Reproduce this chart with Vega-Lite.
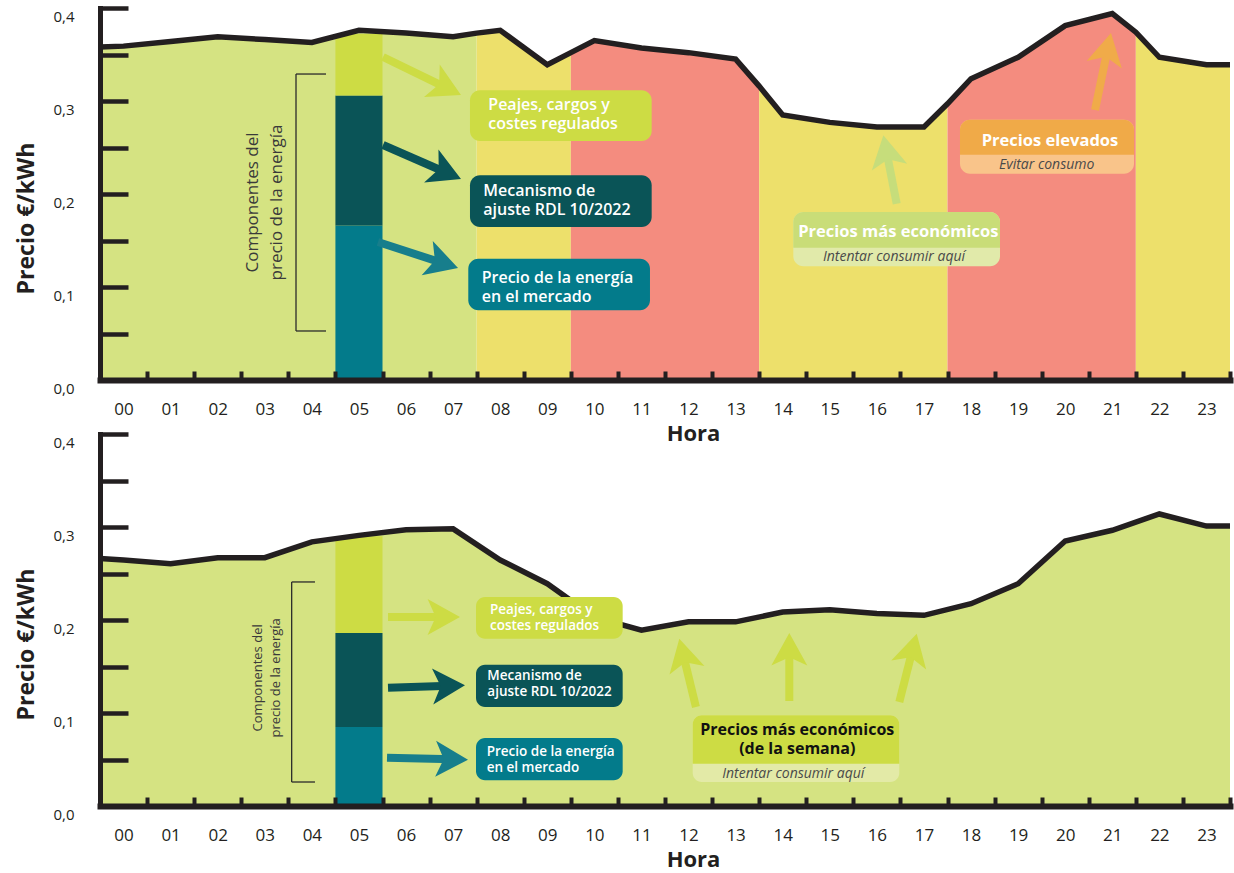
{
  "$schema": "https://vega.github.io/schema/vega-lite/v6.json",
  "autosize": {"type": "pad"},
  "padding": {"left": 15, "top": 2, "right": 0, "bottom": 6},
  "background": "white",
  "bounds": "flush",
  "spacing": 54,
  "config": {"font": "Open Sans", "view": {"stroke": null}},
  "datasets": {
    "curva": [
      {"panel": "dia", "seg": "s1", "tramo": "verde", "hora": 0, "precio": 0.358},
      {"panel": "dia", "seg": "s1", "tramo": "verde", "hora": 0.5, "precio": 0.359},
      {"panel": "dia", "seg": "s1", "tramo": "verde", "hora": 1.5, "precio": 0.364},
      {"panel": "dia", "seg": "s1", "tramo": "verde", "hora": 2.5, "precio": 0.369},
      {"panel": "dia", "seg": "s1", "tramo": "verde", "hora": 3.5, "precio": 0.366},
      {"panel": "dia", "seg": "s1", "tramo": "verde", "hora": 4.5, "precio": 0.363},
      {"panel": "dia", "seg": "s1", "tramo": "verde", "hora": 5.5, "precio": 0.376},
      {"panel": "dia", "seg": "s1", "tramo": "verde", "hora": 6.5, "precio": 0.373},
      {"panel": "dia", "seg": "s1", "tramo": "verde", "hora": 7.5, "precio": 0.369},
      {"panel": "dia", "seg": "s1", "tramo": "verde", "hora": 8, "precio": 0.373},
      {"panel": "dia", "seg": "s2", "tramo": "amarillo", "hora": 8, "precio": 0.373},
      {"panel": "dia", "seg": "s2", "tramo": "amarillo", "hora": 8.5, "precio": 0.376},
      {"panel": "dia", "seg": "s2", "tramo": "amarillo", "hora": 9.5, "precio": 0.339},
      {"panel": "dia", "seg": "s2", "tramo": "amarillo", "hora": 10, "precio": 0.352},
      {"panel": "dia", "seg": "s3", "tramo": "rojo", "hora": 10, "precio": 0.352},
      {"panel": "dia", "seg": "s3", "tramo": "rojo", "hora": 10.5, "precio": 0.365},
      {"panel": "dia", "seg": "s3", "tramo": "rojo", "hora": 11.5, "precio": 0.357},
      {"panel": "dia", "seg": "s3", "tramo": "rojo", "hora": 12.5, "precio": 0.352},
      {"panel": "dia", "seg": "s3", "tramo": "rojo", "hora": 13.5, "precio": 0.345},
      {"panel": "dia", "seg": "s3", "tramo": "rojo", "hora": 14, "precio": 0.316},
      {"panel": "dia", "seg": "s4", "tramo": "amarillo", "hora": 14, "precio": 0.316},
      {"panel": "dia", "seg": "s4", "tramo": "amarillo", "hora": 14.5, "precio": 0.285},
      {"panel": "dia", "seg": "s4", "tramo": "amarillo", "hora": 15.5, "precio": 0.277},
      {"panel": "dia", "seg": "s4", "tramo": "amarillo", "hora": 16.5, "precio": 0.272},
      {"panel": "dia", "seg": "s4", "tramo": "amarillo", "hora": 17.5, "precio": 0.272},
      {"panel": "dia", "seg": "s4", "tramo": "amarillo", "hora": 18, "precio": 0.297},
      {"panel": "dia", "seg": "s5", "tramo": "rojo", "hora": 18, "precio": 0.297},
      {"panel": "dia", "seg": "s5", "tramo": "rojo", "hora": 18.5, "precio": 0.324},
      {"panel": "dia", "seg": "s5", "tramo": "rojo", "hora": 19.5, "precio": 0.347},
      {"panel": "dia", "seg": "s5", "tramo": "rojo", "hora": 20.5, "precio": 0.381},
      {"panel": "dia", "seg": "s5", "tramo": "rojo", "hora": 21.5, "precio": 0.394},
      {"panel": "dia", "seg": "s5", "tramo": "rojo", "hora": 22, "precio": 0.374},
      {"panel": "dia", "seg": "s6", "tramo": "amarillo", "hora": 22, "precio": 0.374},
      {"panel": "dia", "seg": "s6", "tramo": "amarillo", "hora": 22.5, "precio": 0.347},
      {"panel": "dia", "seg": "s6", "tramo": "amarillo", "hora": 23.5, "precio": 0.339},
      {"panel": "dia", "seg": "s6", "tramo": "amarillo", "hora": 24, "precio": 0.339},
      {"panel": "semana", "seg": "s7", "tramo": "verde", "hora": 0, "precio": 0.266},
      {"panel": "semana", "seg": "s7", "tramo": "verde", "hora": 0.5, "precio": 0.2645},
      {"panel": "semana", "seg": "s7", "tramo": "verde", "hora": 1.5, "precio": 0.2605},
      {"panel": "semana", "seg": "s7", "tramo": "verde", "hora": 2.5, "precio": 0.267},
      {"panel": "semana", "seg": "s7", "tramo": "verde", "hora": 3.5, "precio": 0.267},
      {"panel": "semana", "seg": "s7", "tramo": "verde", "hora": 4.5, "precio": 0.284},
      {"panel": "semana", "seg": "s7", "tramo": "verde", "hora": 5.5, "precio": 0.291},
      {"panel": "semana", "seg": "s7", "tramo": "verde", "hora": 6.5, "precio": 0.297},
      {"panel": "semana", "seg": "s7", "tramo": "verde", "hora": 7.5, "precio": 0.298},
      {"panel": "semana", "seg": "s7", "tramo": "verde", "hora": 8.5, "precio": 0.2645},
      {"panel": "semana", "seg": "s7", "tramo": "verde", "hora": 9.5, "precio": 0.239},
      {"panel": "semana", "seg": "s7", "tramo": "verde", "hora": 10.5, "precio": 0.203},
      {"panel": "semana", "seg": "s7", "tramo": "verde", "hora": 11.5, "precio": 0.189},
      {"panel": "semana", "seg": "s7", "tramo": "verde", "hora": 12.5, "precio": 0.198},
      {"panel": "semana", "seg": "s7", "tramo": "verde", "hora": 13.5, "precio": 0.198},
      {"panel": "semana", "seg": "s7", "tramo": "verde", "hora": 14.5, "precio": 0.2085},
      {"panel": "semana", "seg": "s7", "tramo": "verde", "hora": 15.5, "precio": 0.211},
      {"panel": "semana", "seg": "s7", "tramo": "verde", "hora": 16.5, "precio": 0.207},
      {"panel": "semana", "seg": "s7", "tramo": "verde", "hora": 17.5, "precio": 0.205},
      {"panel": "semana", "seg": "s7", "tramo": "verde", "hora": 18.5, "precio": 0.2175},
      {"panel": "semana", "seg": "s7", "tramo": "verde", "hora": 19.5, "precio": 0.239},
      {"panel": "semana", "seg": "s7", "tramo": "verde", "hora": 20.5, "precio": 0.285},
      {"panel": "semana", "seg": "s7", "tramo": "verde", "hora": 21.5, "precio": 0.2965},
      {"panel": "semana", "seg": "s7", "tramo": "verde", "hora": 22.5, "precio": 0.314},
      {"panel": "semana", "seg": "s7", "tramo": "verde", "hora": 23.5, "precio": 0.301},
      {"panel": "semana", "seg": "s7", "tramo": "verde", "hora": 24, "precio": 0.301}
    ],
    "componentes": [
      {"panel": "dia", "comp": "energia", "hora": 5, "hora2": 6, "precio": 0, "precio2": 0.166},
      {"panel": "dia", "comp": "ajuste", "hora": 5, "hora2": 6, "precio": 0.166, "precio2": 0.306},
      {"panel": "dia", "comp": "peajes", "hora": 5, "hora2": 6, "precio": 0.306, "precio2": 0.372},
      {"panel": "semana", "comp": "energia", "hora": 5, "hora2": 6, "precio": 0, "precio2": 0.085},
      {"panel": "semana", "comp": "ajuste", "hora": 5, "hora2": 6, "precio": 0.085, "precio2": 0.186},
      {"panel": "semana", "comp": "peajes", "hora": 5, "hora2": 6, "precio": 0.186, "precio2": 0.29}
    ],
    "llave": [
      {"panel": "dia", "hora": 4.163, "hora2": 4.163, "precio": 0.0527, "precio2": 0.329},
      {"panel": "dia", "hora": 4.163, "hora2": 4.8, "precio": 0.329, "precio2": 0.329},
      {"panel": "dia", "hora": 4.163, "hora2": 4.8, "precio": 0.0527, "precio2": 0.0527},
      {"panel": "semana", "hora": 4.071, "hora2": 4.071, "precio": 0.0258, "precio2": 0.2409},
      {"panel": "semana", "hora": 4.071, "hora2": 4.566, "precio": 0.2409, "precio2": 0.2409},
      {"panel": "semana", "hora": 4.071, "hora2": 4.566, "precio": 0.0258, "precio2": 0.0258}
    ],
    "flechas": [
      {"panel": "dia", "tipo": "peajes", "hora": 6.011, "precio": 0.3473, "hora2": 7.381, "precio2": 0.3135},
      {"panel": "dia", "tipo": "ajuste", "hora": 6.011, "precio": 0.2527, "hora2": 7.374, "precio2": 0.2226},
      {"panel": "dia", "tipo": "energia", "hora": 5.904, "precio": 0.1484, "hora2": 7.3, "precio2": 0.1254},
      {"panel": "dia", "tipo": "economico", "hora": 16.921, "precio": 0.1896, "hora2": 16.698, "precio2": 0.2473},
      {"panel": "dia", "tipo": "elevado", "hora": 21.133, "precio": 0.2903, "hora2": 21.407, "precio2": 0.3573},
      {"panel": "semana", "tipo": "peajes", "hora": 6.117, "precio": 0.2032, "hora2": 7.327, "precio2": 0.2032},
      {"panel": "semana", "tipo": "ajuste", "hora": 6.117, "precio": 0.1272, "hora2": 7.434, "precio2": 0.1292},
      {"panel": "semana", "tipo": "energia", "hora": 6.096, "precio": 0.0519, "hora2": 7.498, "precio2": 0.0502},
      {"panel": "semana", "tipo": "semana", "hora": 12.657, "precio": 0.1065, "hora2": 12.374, "precio2": 0.1653},
      {"panel": "semana", "tipo": "semana", "hora": 14.64, "precio": 0.1129, "hora2": 14.64, "precio2": 0.171},
      {"panel": "semana", "tipo": "semana", "hora": 16.976, "precio": 0.1118, "hora2": 17.271, "precio2": 0.1706}
    ],
    "puntas": [
      {"punta": "dia_peajes", "hora": 7.667, "precio": 0.3065},
      {"punta": "dia_ajuste", "hora": 7.667, "precio": 0.2161},
      {"punta": "dia_energia", "hora": 7.604, "precio": 0.1204},
      {"punta": "dia_economico", "hora": 16.637, "precio": 0.2631},
      {"punta": "dia_elevado", "hora": 21.472, "precio": 0.3731},
      {"punta": "sem_peajes", "hora": 7.646, "precio": 0.2032},
      {"punta": "sem_ajuste", "hora": 7.752, "precio": 0.1298},
      {"punta": "sem_energia", "hora": 7.816, "precio": 0.0498},
      {"punta": "sem_1", "hora": 12.304, "precio": 0.1799},
      {"punta": "sem_2", "hora": 14.64, "precio": 0.186},
      {"punta": "sem_3", "hora": 17.346, "precio": 0.1853}
    ],
    "cajas": [
      {"panel": "dia", "forma": "entera", "caja": "peajes", "hora": 7.858, "hora2": 11.717, "precio": 0.3115, "precio2": 0.257},
      {"panel": "dia", "forma": "entera", "caja": "ajuste", "hora": 7.858, "hora2": 11.717, "precio": 0.2201, "precio2": 0.1645},
      {"panel": "dia", "forma": "entera", "caja": "energia", "hora": 7.822, "hora2": 11.681, "precio": 0.1304, "precio2": 0.0749},
      {"panel": "dia", "forma": "entera", "caja": "economico_sub", "hora": 14.725, "hora2": 19.115, "precio": 0.1806, "precio2": 0.1223},
      {"panel": "dia", "forma": "cabecera", "caja": "economico", "hora": 14.725, "hora2": 19.115, "precio": 0.1806, "precio2": 0.1423},
      {"panel": "dia", "forma": "entera", "caja": "elevado_sub", "hora": 18.265, "hora2": 21.961, "precio": 0.2799, "precio2": 0.2218},
      {"panel": "dia", "forma": "cabecera", "caja": "elevado", "hora": 18.265, "hora2": 21.961, "precio": 0.2799, "precio2": 0.2423},
      {"panel": "semana", "forma": "entera", "caja": "peajes", "hora": 7.986, "hora2": 11.101, "precio": 0.2247, "precio2": 0.1799},
      {"panel": "semana", "forma": "entera", "caja": "ajuste", "hora": 7.986, "hora2": 11.101, "precio": 0.1519, "precio2": 0.1065},
      {"panel": "semana", "forma": "entera", "caja": "energia", "hora": 7.986, "hora2": 11.101, "precio": 0.0731, "precio2": 0.0276},
      {"panel": "semana", "forma": "entera", "caja": "semana_sub", "hora": 12.588, "hora2": 16.976, "precio": 0.0975, "precio2": 0.0258},
      {"panel": "semana", "forma": "cabecera", "caja": "semana", "hora": 12.588, "hora2": 16.976, "precio": 0.0975, "precio2": 0.0455}
    ],
    "textos": [
      {"panel": "dia", "estilo": "caja", "texto": "Peajes, cargos y\ncostes regulados", "hora": 8.247, "precio": 0.29},
      {"panel": "dia", "estilo": "caja", "texto": "Mecanismo de\najuste RDL 10/2022", "hora": 8.141, "precio": 0.1975},
      {"panel": "dia", "estilo": "caja", "texto": "Precio de la energía\nen el mercado", "hora": 8.107, "precio": 0.1046},
      {"panel": "dia", "estilo": "titulo", "texto": "Precios más económicos", "hora": 16.955, "precio": 0.1538},
      {"panel": "dia", "estilo": "sub", "texto": "Intentar consumir aquí", "hora": 16.864, "precio": 0.128},
      {"panel": "dia", "estilo": "titulo", "texto": "Precios elevados", "hora": 20.177, "precio": 0.2513},
      {"panel": "dia", "estilo": "sub", "texto": "Evitar consumo", "hora": 20.106, "precio": 0.2272},
      {"panel": "dia", "estilo": "giro", "texto": "Componentes del\nprecio de la energía", "hora": 3.25, "precio": 0.1909},
      {"panel": "semana", "estilo": "caja_p", "texto": "Peajes, cargos y\ncostes regulados", "hora": 8.283, "precio": 0.2068},
      {"panel": "semana", "estilo": "caja_p", "texto": "Mecanismo de\najuste RDL 10/2022", "hora": 8.226, "precio": 0.1352},
      {"panel": "semana", "estilo": "caja_p", "texto": "Precio de la energía\nen el mercado", "hora": 8.212, "precio": 0.0538},
      {"panel": "semana", "estilo": "titulo_n", "texto": "Precios más económicos\n(de la semana)", "hora": 14.809, "precio": 0.076},
      {"panel": "semana", "estilo": "sub", "texto": "Intentar consumir aquí", "hora": 14.725, "precio": 0.0304},
      {"panel": "semana", "estilo": "giro_p", "texto": "Componentes del\nprecio de la energía", "hora": 3.356, "precio": 0.1378}
    ]
  },
  "vconcat": [
    {
      "width": 1130,
      "height": 372,
      "encoding": {
        "x": {
          "field": "hora", "type": "quantitative",
          "scale": {"domain": [0, 24], "nice": false, "zero": false},
          "axis": {
            "zindex": 1,
            "values": [0, 1, 2, 3, 4, 5, 6, 7, 8, 9, 10, 11, 12, 13, 14, 15, 16, 17, 18, 19, 20, 21, 22, 23, 24],
            "labelExpr": "datum.value < 10 ? '0' + datum.value : (datum.value < 24 ? '' + datum.value : '')",
            "labelOffset": 23.54, "labelPadding": 30, "labelFontSize": 17, "labelColor": "#231f20",
            "labelBaseline": "top", "labelFlush": false, "labelOverlap": false, "labelBound": false,
            "tickSize": -9, "tickWidth": 4, "tickColor": "#231f20",
            "domainWidth": 6, "domainColor": "#231f20", "domainCap": "square", "grid": false,
            "title": "Hora", "titleFontSize": 22, "titleFontWeight": "bold", "titleColor": "#231f20",
            "titleX": 593, "titleY": 60, "titleBaseline": "alphabetic", "titleAlign": "center"
          }
        },
        "y": {
          "field": "precio", "type": "quantitative", "stack": null,
          "scale": {"domain": [0, 0.4], "nice": false},
          "axis": {
            "zindex": 1,
            "values": [0, 0.05, 0.1, 0.15, 0.2, 0.25, 0.3, 0.35, 0.4],
            "labelExpr": "round(datum.value * 20) % 2 == 0 ? replace(format(datum.value, '.1f'), '.', ',') : ''",
            "labelOffset": 8, "labelPadding": 54, "labelFontSize": 15, "labelColor": "#231f20",
            "labelFlush": false, "labelOverlap": false, "labelBound": false,
            "tickSize": -28, "tickWidth": 4.5, "tickColor": "#231f20",
            "domainWidth": 5, "domainColor": "#231f20", "domainCap": "square", "grid": false,
            "title": "Precio €/kWh", "titleFontSize": 23, "titleFontWeight": "bold", "titleColor": "#231f20",
            "titleX": -67, "titleY": 210, "titleBaseline": "alphabetic", "titleAngle": 270, "titleAlign": "center"
          }
        }
      },
      "resolve": {"scale": {"color": "independent"}},
      "layer": [
        {
          "data": {"name": "curva"},
          "transform": [{"filter": "datum.panel == 'dia'"}],
          "mark": {"type": "area", "opacity": 1},
          "encoding": {
            "color": {"field": "tramo", "type": "nominal", "legend": null,
              "scale": {"domain": ["verde", "amarillo", "rojo"], "range": ["#d5e382", "#ede06b", "#f48c7f"]}},
            "detail": {"field": "seg"}
          }
        },
        {
          "data": {"name": "componentes"},
          "transform": [{"filter": "datum.panel == 'dia'"}],
          "mark": {"type": "rect"},
          "encoding": {
            "x2": {"field": "hora2"},
            "y2": {"field": "precio2"},
            "color": {"field": "comp", "type": "nominal", "legend": null,
              "scale": {"domain": ["energia", "ajuste", "peajes"], "range": ["#037b8b", "#0a5457", "#cddc44"]}}
          }
        },
        {
          "data": {"name": "curva"},
          "transform": [{"filter": "datum.panel == 'dia'"}],
          "mark": {"type": "line", "color": "#231f20", "strokeWidth": 5.5}
        },
        {
          "data": {"name": "llave"},
          "transform": [{"filter": "datum.panel == 'dia'"}],
          "mark": {"type": "rule", "color": "#2b2b2b", "strokeWidth": 1.3},
          "encoding": {"x2": {"field": "hora2"}, "y2": {"field": "precio2"}}
        },
        {
          "data": {"name": "textos"},
          "transform": [{"filter": "datum.panel == 'dia' && datum.estilo == 'giro'"}],
          "mark": {"type": "text", "angle": 270, "fontSize": 17, "lineHeight": 24, "lineBreak": "\n", "align": "center", "baseline": "middle", "color": "#3a3a3a"},
          "encoding": {"text": {"field": "texto"}}
        },
        {
          "data": {"name": "flechas"},
          "transform": [{"filter": "datum.panel == 'dia'"}],
          "mark": {"type": "rule", "strokeWidth": 8},
          "encoding": {
            "x2": {"field": "hora2"}, "y2": {"field": "precio2"},
            "color": {"field": "tipo", "type": "nominal", "legend": null,
              "scale": {"domain": ["peajes", "ajuste", "energia", "economico", "elevado"], "range": ["#cddc44", "#0a5457", "#177e8c", "#c6dd7b", "#f0ab49"]}}
          }
        },
        {
          "data": {"name": "puntas"},
          "transform": [{"filter": "datum.punta == 'dia_peajes'"}],
          "mark": {"type": "point", "shape": "M0,0L-1.8,-1L-1.35,0L-1.8,1Z", "size": 1296, "filled": true, "opacity": 1, "strokeWidth": 0, "color": "#cddc44", "angle": 26}
        },
        {
          "data": {"name": "puntas"},
          "transform": [{"filter": "datum.punta == 'dia_ajuste'"}],
          "mark": {"type": "point", "shape": "M0,0L-1.8,-1L-1.35,0L-1.8,1Z", "size": 1296, "filled": true, "opacity": 1, "strokeWidth": 0, "color": "#0a5457", "angle": 23.5}
        },
        {
          "data": {"name": "puntas"},
          "transform": [{"filter": "datum.punta == 'dia_energia'"}],
          "mark": {"type": "point", "shape": "M0,0L-1.8,-1L-1.35,0L-1.8,1Z", "size": 1296, "filled": true, "opacity": 1, "strokeWidth": 0, "color": "#177e8c", "angle": 18}
        },
        {
          "data": {"name": "puntas"},
          "transform": [{"filter": "datum.punta == 'dia_economico'"}],
          "mark": {"type": "point", "shape": "M0,0L-1.8,-1L-1.35,0L-1.8,1Z", "size": 1296, "filled": true, "opacity": 1, "strokeWidth": 0, "color": "#c6dd7b", "angle": 259}
        },
        {
          "data": {"name": "puntas"},
          "transform": [{"filter": "datum.punta == 'dia_elevado'"}],
          "mark": {"type": "point", "shape": "M0,0L-1.8,-1L-1.35,0L-1.8,1Z", "size": 1296, "filled": true, "opacity": 1, "strokeWidth": 0, "color": "#f0ab49", "angle": 282}
        },
        {
          "data": {"name": "cajas"},
          "transform": [{"filter": "datum.panel == 'dia' && datum.forma == 'entera'"}],
          "mark": {"type": "rect", "cornerRadius": 10},
          "encoding": {
            "x2": {"field": "hora2"}, "y2": {"field": "precio2"},
            "color": {"field": "caja", "type": "nominal", "legend": null,
              "scale": {"domain": ["peajes", "ajuste", "energia", "economico_sub", "elevado_sub"], "range": ["#cddc44", "#0a5457", "#037b8b", "#e1eaaa", "#f9c48a"]}}
          }
        },
        {
          "data": {"name": "cajas"},
          "transform": [{"filter": "datum.panel == 'dia' && datum.forma == 'cabecera'"}],
          "mark": {"type": "rect", "cornerRadiusTopLeft": 10, "cornerRadiusTopRight": 10},
          "encoding": {
            "x2": {"field": "hora2"}, "y2": {"field": "precio2"},
            "color": {"field": "caja", "type": "nominal", "legend": null,
              "scale": {"domain": ["economico", "elevado"], "range": ["#c9dd78", "#f0aa48"]}}
          }
        },
        {
          "data": {"name": "textos"},
          "transform": [{"filter": "datum.panel == 'dia' && datum.estilo == 'caja'"}],
          "mark": {"type": "text", "fontSize": 16, "fontWeight": 600, "lineHeight": 19, "lineBreak": "\n", "align": "left", "baseline": "alphabetic", "color": "#ffffff"},
          "encoding": {"text": {"field": "texto"}}
        },
        {
          "data": {"name": "textos"},
          "transform": [{"filter": "datum.panel == 'dia' && datum.estilo == 'titulo'"}],
          "mark": {"type": "text", "fontSize": 16.5, "fontWeight": "bold", "align": "center", "baseline": "alphabetic", "color": "#ffffff"},
          "encoding": {"text": {"field": "texto"}}
        },
        {
          "data": {"name": "textos"},
          "transform": [{"filter": "datum.panel == 'dia' && datum.estilo == 'sub'"}],
          "mark": {"type": "text", "fontSize": 14, "fontStyle": "italic", "align": "center", "baseline": "alphabetic", "color": "#4a4a4a"},
          "encoding": {"text": {"field": "texto"}}
        }
      ]
    },
    {
      "width": 1130,
      "height": 372,
      "encoding": {
        "x": {
          "field": "hora", "type": "quantitative",
          "scale": {"domain": [0, 24], "nice": false, "zero": false},
          "axis": {
            "zindex": 1,
            "values": [0, 1, 2, 3, 4, 5, 6, 7, 8, 9, 10, 11, 12, 13, 14, 15, 16, 17, 18, 19, 20, 21, 22, 23, 24],
            "labelExpr": "datum.value < 10 ? '0' + datum.value : (datum.value < 24 ? '' + datum.value : '')",
            "labelOffset": 23.54, "labelPadding": 30, "labelFontSize": 17, "labelColor": "#231f20",
            "labelBaseline": "top", "labelFlush": false, "labelOverlap": false, "labelBound": false,
            "tickSize": -9, "tickWidth": 4, "tickColor": "#231f20",
            "domainWidth": 6, "domainColor": "#231f20", "domainCap": "square", "grid": false,
            "title": "Hora", "titleFontSize": 22, "titleFontWeight": "bold", "titleColor": "#231f20",
            "titleX": 593, "titleY": 60, "titleBaseline": "alphabetic", "titleAlign": "center"
          }
        },
        "y": {
          "field": "precio", "type": "quantitative", "stack": null,
          "scale": {"domain": [0, 0.4], "nice": false},
          "axis": {
            "zindex": 1,
            "values": [0, 0.05, 0.1, 0.15, 0.2, 0.25, 0.3, 0.35, 0.4],
            "labelExpr": "round(datum.value * 20) % 2 == 0 ? replace(format(datum.value, '.1f'), '.', ',') : ''",
            "labelOffset": 8, "labelPadding": 54, "labelFontSize": 15, "labelColor": "#231f20",
            "labelFlush": false, "labelOverlap": false, "labelBound": false,
            "tickSize": -28, "tickWidth": 4.5, "tickColor": "#231f20",
            "domainWidth": 5, "domainColor": "#231f20", "domainCap": "square", "grid": false,
            "title": "Precio €/kWh", "titleFontSize": 23, "titleFontWeight": "bold", "titleColor": "#231f20",
            "titleX": -67, "titleY": 210, "titleBaseline": "alphabetic", "titleAngle": 270, "titleAlign": "center"
          }
        }
      },
      "resolve": {"scale": {"color": "independent"}},
      "layer": [
        {
          "data": {"name": "curva"},
          "transform": [{"filter": "datum.panel == 'semana'"}],
          "mark": {"type": "area", "opacity": 1, "color": "#d5e382"}
        },
        {
          "data": {"name": "componentes"},
          "transform": [{"filter": "datum.panel == 'semana'"}],
          "mark": {"type": "rect"},
          "encoding": {
            "x2": {"field": "hora2"},
            "y2": {"field": "precio2"},
            "color": {"field": "comp", "type": "nominal", "legend": null,
              "scale": {"domain": ["energia", "ajuste", "peajes"], "range": ["#037b8b", "#0a5457", "#cddc44"]}}
          }
        },
        {
          "data": {"name": "curva"},
          "transform": [{"filter": "datum.panel == 'semana'"}],
          "mark": {"type": "line", "color": "#231f20", "strokeWidth": 5.5}
        },
        {
          "data": {"name": "llave"},
          "transform": [{"filter": "datum.panel == 'semana'"}],
          "mark": {"type": "rule", "color": "#2b2b2b", "strokeWidth": 1.3},
          "encoding": {"x2": {"field": "hora2"}, "y2": {"field": "precio2"}}
        },
        {
          "data": {"name": "textos"},
          "transform": [{"filter": "datum.panel == 'semana' && datum.estilo == 'giro_p'"}],
          "mark": {"type": "text", "angle": 270, "fontSize": 13, "lineHeight": 18, "lineBreak": "\n", "align": "center", "baseline": "middle", "color": "#3a3a3a"},
          "encoding": {"text": {"field": "texto"}}
        },
        {
          "data": {"name": "flechas"},
          "transform": [{"filter": "datum.panel == 'semana'"}],
          "mark": {"type": "rule", "strokeWidth": 8},
          "encoding": {
            "x2": {"field": "hora2"}, "y2": {"field": "precio2"},
            "color": {"field": "tipo", "type": "nominal", "legend": null,
              "scale": {"domain": ["peajes", "ajuste", "energia", "semana"], "range": ["#cddc44", "#0a5457", "#177e8c", "#cddc44"]}}
          }
        },
        {
          "data": {"name": "puntas"},
          "transform": [{"filter": "datum.punta == 'sem_peajes'"}],
          "mark": {"type": "point", "shape": "M0,0L-1.8,-1L-1.35,0L-1.8,1Z", "size": 1296, "filled": true, "opacity": 1, "strokeWidth": 0, "color": "#cddc44", "angle": 0}
        },
        {
          "data": {"name": "puntas"},
          "transform": [{"filter": "datum.punta == 'sem_ajuste'"}],
          "mark": {"type": "point", "shape": "M0,0L-1.8,-1L-1.35,0L-1.8,1Z", "size": 1296, "filled": true, "opacity": 1, "strokeWidth": 0, "color": "#0a5457", "angle": 358}
        },
        {
          "data": {"name": "puntas"},
          "transform": [{"filter": "datum.punta == 'sem_energia'"}],
          "mark": {"type": "point", "shape": "M0,0L-1.8,-1L-1.35,0L-1.8,1Z", "size": 1296, "filled": true, "opacity": 1, "strokeWidth": 0, "color": "#177e8c", "angle": 1.5}
        },
        {
          "data": {"name": "puntas"},
          "transform": [{"filter": "datum.punta == 'sem_1'"}],
          "mark": {"type": "point", "shape": "M0,0L-1.8,-1L-1.35,0L-1.8,1Z", "size": 1296, "filled": true, "opacity": 1, "strokeWidth": 0, "color": "#cddc44", "angle": 256.3}
        },
        {
          "data": {"name": "puntas"},
          "transform": [{"filter": "datum.punta == 'sem_2'"}],
          "mark": {"type": "point", "shape": "M0,0L-1.8,-1L-1.35,0L-1.8,1Z", "size": 1296, "filled": true, "opacity": 1, "strokeWidth": 0, "color": "#cddc44", "angle": 270}
        },
        {
          "data": {"name": "puntas"},
          "transform": [{"filter": "datum.punta == 'sem_3'"}],
          "mark": {"type": "point", "shape": "M0,0L-1.8,-1L-1.35,0L-1.8,1Z", "size": 1296, "filled": true, "opacity": 1, "strokeWidth": 0, "color": "#cddc44", "angle": 284.3}
        },
        {
          "data": {"name": "cajas"},
          "transform": [{"filter": "datum.panel == 'semana' && datum.forma == 'entera'"}],
          "mark": {"type": "rect", "cornerRadius": 9},
          "encoding": {
            "x2": {"field": "hora2"}, "y2": {"field": "precio2"},
            "color": {"field": "caja", "type": "nominal", "legend": null,
              "scale": {"domain": ["peajes", "ajuste", "energia", "semana_sub"], "range": ["#cddc44", "#0a5457", "#037b8b", "#e3eaa7"]}}
          }
        },
        {
          "data": {"name": "cajas"},
          "transform": [{"filter": "datum.panel == 'semana' && datum.forma == 'cabecera'"}],
          "mark": {"type": "rect", "cornerRadiusTopLeft": 9, "cornerRadiusTopRight": 9, "color": "#cddc44"},
          "encoding": {"x2": {"field": "hora2"}, "y2": {"field": "precio2"}}
        },
        {
          "data": {"name": "textos"},
          "transform": [{"filter": "datum.panel == 'semana' && datum.estilo == 'caja_p'"}],
          "mark": {"type": "text", "fontSize": 13.5, "fontWeight": 600, "lineHeight": 16, "lineBreak": "\n", "align": "left", "baseline": "alphabetic", "color": "#ffffff"},
          "encoding": {"text": {"field": "texto"}}
        },
        {
          "data": {"name": "textos"},
          "transform": [{"filter": "datum.panel == 'semana' && datum.estilo == 'titulo_n'"}],
          "mark": {"type": "text", "fontSize": 16, "fontWeight": "bold", "lineHeight": 19, "lineBreak": "\n", "align": "center", "baseline": "alphabetic", "color": "#111111"},
          "encoding": {"text": {"field": "texto"}}
        },
        {
          "data": {"name": "textos"},
          "transform": [{"filter": "datum.panel == 'semana' && datum.estilo == 'sub'"}],
          "mark": {"type": "text", "fontSize": 14, "fontStyle": "italic", "align": "center", "baseline": "alphabetic", "color": "#4a4a4a"},
          "encoding": {"text": {"field": "texto"}}
        }
      ]
    }
  ]
}
